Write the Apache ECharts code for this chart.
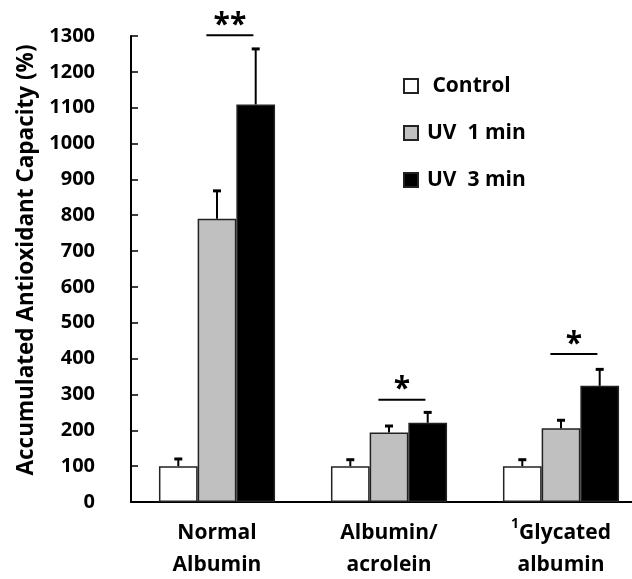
<!DOCTYPE html>
<html><head><meta charset="utf-8">
<script src="https://cdn.jsdelivr.net/npm/echarts@6/dist/echarts.min.js"></script>
<style>html,body{margin:0;padding:0;background:#fff}#c{width:632px;height:579px}</style>
</head><body><div id="c"></div>
<script>
const categories = ['Normal\nAlbumin', 'Albumin/\nacrolein', '{sup|1}Glycated\nalbumin'];
const seriesNames = ['Control', 'UV  1 min', 'UV  3 min'];
const controlVals = [100, 100, 100];
const controlErr = [20, 18, 18];
const uv1Vals = [790, 194, 206];
const uv1Err = [78, 18, 22];
const uv3Vals = [1109, 221, 324];
const uv3Err = [155, 29, 46];
const sigCats = [0, 1, 2];
const sigLevels = [1302, 285, 413];
const sigLabels = ['**', '*', '*'];
const yTicks = [0,100,200,300,400,500,600,700,800,900,1000,1100,1200,1300];

const FONT = 'Open Sans';
const GAP = 0.325;
const colors = ['#ffffff', '#c0c0c0', '#000000'];
const vals = [controlVals, uv1Vals, uv3Vals];
const errs = [controlErr, uv1Err, uv3Err];

const errData = [];
vals.forEach((arr, si) => arr.forEach((v, ci) => errData.push([ci, v, errs[si][ci], si])));

function renderErr(params, api) {
  const ci = api.value(0), v = api.value(1), e = api.value(2), si = api.value(3);
  const band = api.size([1, 0])[0];
  const bw = band * (1 - GAP) / 3;
  const p0 = api.coord([ci, v]);
  const p1 = api.coord([ci, v + e]);
  const x = p0[0] + (si - 1) * bw;
  return { type: 'group', children: [
    { type: 'line', shape: { x1: x, y1: p0[1], x2: x, y2: p1[1] }, style: { stroke: '#000', lineWidth: 2 } },
    { type: 'line', shape: { x1: x - 4, y1: p1[1], x2: x + 4, y2: p1[1] }, style: { stroke: '#000', lineWidth: 3 } }
  ]};
}

const sigData = sigCats.map((c, i) => [c, sigLevels[i], sigLabels[i]]);
function renderSig(params, api) {
  const ci = api.value(0), lv = api.value(1);
  const lab = sigLabels[params.dataIndex];
  const band = api.size([1, 0])[0];
  const p = api.coord([ci, lv]);
  const cx = p[0] + band * 0.075;
  return { type: 'group', children: [
    { type: 'line', shape: { x1: cx - 23.5, y1: p[1], x2: cx + 23.5, y2: p[1] }, style: { stroke: '#000', lineWidth: 2 } },
    { type: 'text', x: cx, y: p[1] - 10, style: { text: lab, fontFamily: FONT, fontWeight: 'bold', fontSize: 30, fill: '#000', align: 'center', verticalAlign: 'middle' } }
  ]};
}

const chart = echarts.init(document.getElementById('c'), null, { renderer: 'canvas' });
chart.setOption({
  animation: false,
  backgroundColor: '#fff',
  grid: { left: 131, right: -15, top: 36, bottom: 77, outerBoundsMode: 'none', containLabel: false },
  legend: {
    orient: 'vertical', left: 403, top: 75, padding: 0, itemWidth: 14, itemHeight: 14, itemGap: 25,
    icon: 'rect',
    formatter: n => n === 'Control' ? ' Control' : n,
    textStyle: { fontFamily: FONT, fontWeight: 'bold', fontSize: 21, lineHeight: 22, color: '#000', padding: [0,0,0,4] },
    data: seriesNames
  },
  xAxis: {
    type: 'category', data: categories,
    axisLine: { lineStyle: { color: '#000', width: 2 } },
    axisTick: { show: false },
    axisLabel: { interval: 0, margin: 15, lineHeight: 32, fontFamily: FONT, fontWeight: 'bold', fontSize: 21, color: '#000',
      rich: { sup: { fontFamily: FONT, fontWeight: 'bold', fontSize: 14, color: '#000', verticalAlign: 'top', padding: [0,0,8,0] } } }
  },
  yAxis: {
    type: 'value', min: 0, max: 1300, interval: 100,
    name: 'Accumulated Antioxidant Capacity (%)', nameLocation: 'middle', nameGap: 92,
    nameTextStyle: { fontFamily: FONT, fontWeight: 'bold', fontSize: 22.5, color: '#000', padding: [0,0,0,18] },
    axisLine: { show: true, lineStyle: { color: '#000', width: 2 } },
    axisTick: { show: true, inside: true, length: 7, lineStyle: { color: '#000', width: 1.5 } },
    splitLine: { show: false },
    axisLabel: { margin: 36, fontFamily: FONT, fontWeight: 'bold', fontSize: 20, color: '#000',
      formatter: v => yTicks.includes(v) ? String(v) : '' }
  },
  series: [
    ...seriesNames.map((n, i) => ({
      name: n, type: 'bar', data: vals[i], barGap: '0%', barCategoryGap: (GAP * 100) + '%',
      itemStyle: { color: colors[i], borderColor: '#222', borderWidth: 1.5 }, z: 2
    })),
    { type: 'custom', renderItem: renderErr, data: errData, z: 5, silent: true },
    { type: 'custom', renderItem: renderSig, data: sigData, z: 5, silent: true }
  ]
});
</script></body></html>
